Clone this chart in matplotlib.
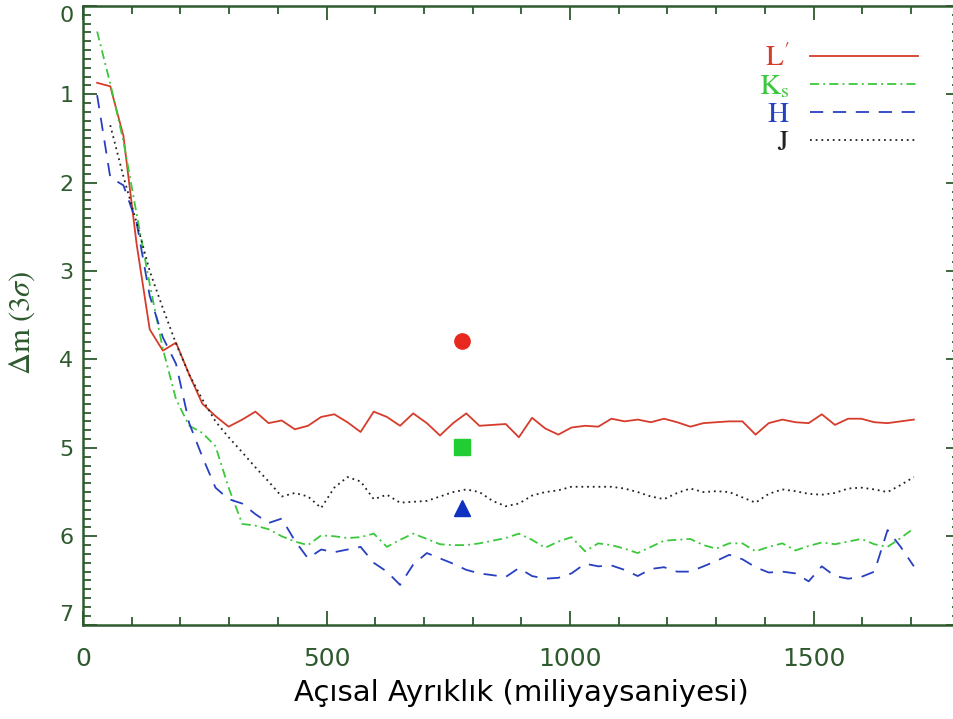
import numpy as np
import matplotlib
matplotlib.use('Agg')
import matplotlib.pyplot as plt
from matplotlib.lines import Line2D

# acisal ayriklik (mas) - ortak ornekleme
ayriklik = [29, 56, 83, 110, 137, 164, 191, 218, 245, 272, 299, 327, 354, 381, 408,
            435, 462, 489, 516, 543, 570, 597, 624, 651, 678, 706, 733, 760, 787, 814,
            841, 868, 895, 922, 949, 976, 1003, 1031, 1058, 1085, 1112, 1139, 1166, 1193,
            1220, 1247, 1274, 1300, 1327, 1354, 1381, 1408, 1436, 1463, 1490, 1517, 1544,
            1571, 1598, 1625, 1652, 1679, 1706]

dm_L = [0.87, 0.91, 1.47, 2.69, 3.66, 3.90, 3.81, 4.17, 4.50, 4.64, 4.76, 4.68, 4.59, 4.72,
        4.69, 4.79, 4.75, 4.65, 4.62, 4.71, 4.82, 4.59, 4.65, 4.75, 4.61, 4.72, 4.86, 4.72,
        4.61, 4.75, 4.74, 4.73, 4.88, 4.66, 4.78, 4.85, 4.77, 4.75, 4.76, 4.67, 4.70, 4.68,
        4.71, 4.67, 4.71, 4.76, 4.72, 4.71, 4.70, 4.70, 4.85, 4.72, 4.68, 4.71, 4.72, 4.62,
        4.74, 4.67, 4.67, 4.71, 4.72, 4.70, 4.68]

dm_Ks = [0.29, 0.88, 1.53, 2.35, 3.15, 3.88, 4.45, 4.75, 4.83, 4.98, 5.45, 5.86, 5.88, 5.92,
         6.00, 6.06, 6.10, 5.99, 6.00, 6.02, 6.01, 5.97, 6.12, 6.04, 5.97, 6.03, 6.09, 6.10,
         6.10, 6.08, 6.05, 6.02, 5.97, 6.04, 6.13, 6.06, 6.01, 6.17, 6.08, 6.10, 6.14, 6.19,
         6.12, 6.05, 6.04, 6.03, 6.10, 6.14, 6.08, 6.08, 6.17, 6.12, 6.08, 6.16, 6.11, 6.07,
         6.09, 6.06, 6.03, 6.09, 6.12, 6.02, 5.91]

dm_H = [1.01, 1.94, 2.03, 2.45, 3.28, 3.75, 4.05, 4.72, 5.10, 5.45, 5.58, 5.63, 5.75, 5.85,
        5.80, 6.05, 6.25, 6.15, 6.18, 6.15, 6.12, 6.30, 6.40, 6.55, 6.32, 6.19, 6.25, 6.31,
        6.38, 6.42, 6.44, 6.46, 6.36, 6.45, 6.48, 6.47, 6.42, 6.31, 6.34, 6.33, 6.38, 6.45,
        6.37, 6.35, 6.40, 6.40, 6.34, 6.28, 6.21, 6.26, 6.35, 6.41, 6.40, 6.42, 6.51, 6.34,
        6.45, 6.48, 6.46, 6.40, 5.93, 6.12, 6.34]

dm_J = [np.nan, 1.35, 1.93, 2.45, 3.00, 3.42, 3.82, 4.17, 4.45, 4.70, 4.88, 5.05, 5.22, 5.38,
        5.55, 5.51, 5.55, 5.68, 5.45, 5.33, 5.38, 5.58, 5.53, 5.62, 5.61, 5.60, 5.55, 5.50,
        5.47, 5.50, 5.60, 5.66, 5.63, 5.54, 5.50, 5.48, 5.44, 5.44, 5.44, 5.44, 5.46, 5.50,
        5.55, 5.58, 5.51, 5.46, 5.50, 5.49, 5.50, 5.56, 5.62, 5.52, 5.47, 5.49, 5.52, 5.53,
        5.51, 5.46, 5.45, 5.47, 5.50, 5.42, 5.33]

# tekil olcumler
nokta_x = 778
nokta_L, nokta_Ks, nokta_H = 3.79, 4.99, 5.68

yesil = '#2e5a2e'
renk_L, renk_Ks, renk_H, renk_J = '#d63c2c', '#3cc83c', '#2840c0', '#222222'
kesik_Ks = (6.5, 3, 1.4, 3)
kesik_H = (9.5, 7)
kesik_J = (1.3, 2.8)
plt.rcParams['lines.scale_dashes'] = False
plt.rcParams['mathtext.fontset'] = 'stix'

fig = plt.figure(figsize=(9.54, 7.19), dpi=100)
ax = fig.add_axes([0.087, 0.1312, 0.9189, 0.8606])

ax.plot(ayriklik, dm_L, color=renk_L, lw=1.3)
ax.plot(ayriklik, dm_Ks, color=renk_Ks, lw=1.3, dashes=kesik_Ks)
ax.plot(ayriklik, dm_H, color=renk_H, lw=1.3, dashes=kesik_H)
ax.plot(ayriklik, dm_J, color=renk_J, lw=1.3, dashes=kesik_J)

ax.plot(nokta_x, nokta_L, 'o', color='#e8281e', ms=11)
ax.plot(nokta_x, nokta_Ks, 's', color='#22cc33', ms=12)
ax.plot(nokta_x, nokta_H, '^', color='#1030c0', ms=11)

ax.set_xlim(0, 1800)
ax.set_ylim(7, 0)
ax.set_xticks([0, 500, 1000, 1500])
ax.set_xticks(np.arange(0, 1801, 100), minor=True)
ax.set_yticks(range(8))
ax.set_yticks(np.arange(0, 7.01, 0.1), minor=True)

for s in ax.spines.values():
    s.set_color(yesil)
    s.set_linewidth(1.8)

ax.tick_params(which='both', direction='in', top=True, right=True, color=yesil, width=1.3,
               labelcolor=yesil)
ax.tick_params(which='major', length=10)
ax.tick_params(which='minor', length=6)
ax.tick_params(axis='x', pad=16, labelsize=18)
ax.tick_params(axis='y', pad=7, labelsize=16)
ylabs = ax.get_yticklabels()
ylabs[0].set_va('top')
ylabs[-1].set_va('bottom')

ax.set_xlabel('Açısal Ayrıklık (miliyaysaniyesi)', fontsize=21, color='black')
ax.xaxis.set_label_coords(0.5, -0.087)
ax.set_ylabel(r'$\Delta\mathrm{m}\ (3\sigma)$', fontsize=22, color=yesil)
ax.yaxis.set_label_coords(-0.052, 0.488)

tutamak = [Line2D([], [], color=renk_L, lw=1.3),
           Line2D([], [], color=renk_Ks, lw=1.3, dashes=kesik_Ks),
           Line2D([], [], color=renk_H, lw=1.3, dashes=kesik_H),
           Line2D([], [], color=renk_J, lw=1.3, dashes=kesik_J)]
etiket = [r"$\mathrm{L}'$", r"$\mathrm{K_s}$", r"$\mathrm{H}$", r"$\mathrm{J}$"]
ax.legend(tutamak, etiket, loc='upper right', bbox_to_anchor=(0.9525, 0.938), frameon=False,
          markerfirst=False, labelcolor=[renk_L, renk_Ks, renk_H, renk_J],
          prop={'size': 21}, handlelength=3.7, handletextpad=0.7, labelspacing=0.0,
          borderpad=0, borderaxespad=0)

fig.savefig('out.png', dpi=100)
